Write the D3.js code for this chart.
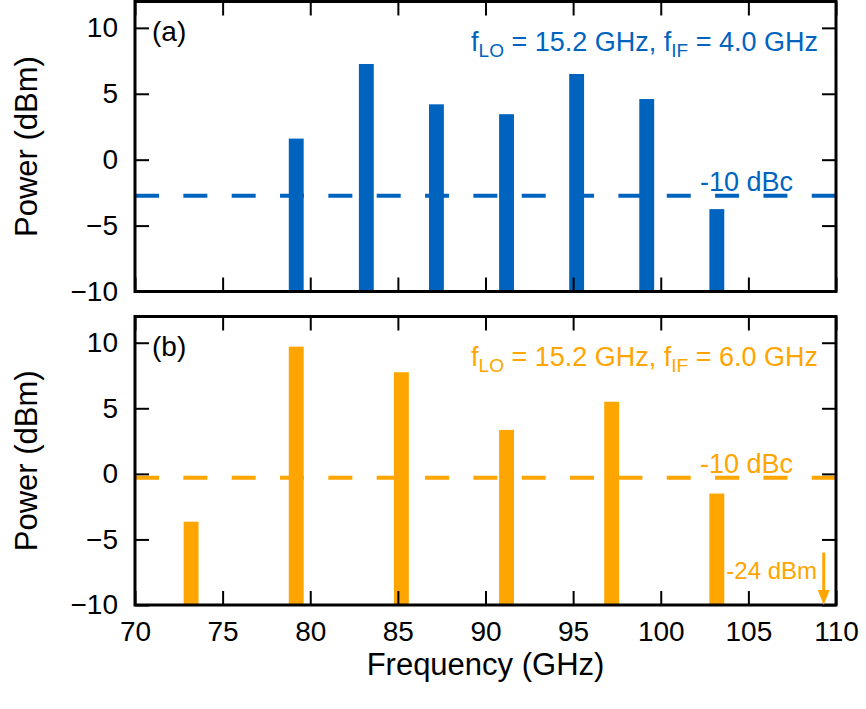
<!DOCTYPE html>
<html>
<head>
<meta charset="utf-8">
<script src="https://cdn.jsdelivr.net/npm/d3@7"></script>
<style>
  html, body { margin: 0; padding: 0; background: #fff; }
  svg { display: block; font-family: "Liberation Sans", Arial, Helvetica, sans-serif; }
</style>
</head>
<body>
<svg id="chart" width="866" height="709"></svg>
<script>
// Sideband spectra, panel (a): f_IF = 4.0 GHz
const freqA = [79.2, 83.2, 87.2, 91.2, 95.2, 99.2, 103.2];
const powerA = [1.6, 7.26, 4.2, 3.45, 6.5, 4.6, -3.75];
// Panel (b): f_IF = 6.0 GHz
const freqB = [73.2, 79.2, 85.2, 91.2, 97.2, 103.2];
const powerB = [-3.65, 9.7, 7.75, 3.35, 5.5, -1.5];
// Off-scale sideband in panel (b), marked with an arrow
const offScaleB = { freq: 109.3, power: -24, arrowFrom: -6 };

const xTicks = [70, 75, 80, 85, 90, 95, 100, 105, 110];
const yTicks = [-10, -5, 0, 5, 10];
const xDomain = [70, 110];
const yDomain = [-10, 12];
const barWidthGHz = 0.85;

const panels = [
  { tag: "(a)", freq: freqA, power: powerA, color: "#0064bf", lo: "15.2", ifr: "4.0", top: 1.5, bottom: 291.5, xLabels: false },
  { tag: "(b)", freq: freqB, power: powerB, color: "#ffa500", lo: "15.2", ifr: "6.0", top: 316.5, bottom: 605, xLabels: true }
];

const svg = d3.select("#chart");
const left = 135, right = 836;
const x = d3.scaleLinear().domain(xDomain).range([left, right]);
const tickLen = 14;
const fmt = d => d < 0 ? "\u2212" + Math.abs(d) : String(d);

panels.forEach(p => {
  const y = d3.scaleLinear().domain(yDomain).range([p.bottom, p.top]);
  const g = svg.append("g");

  // bars
  g.selectAll("rect.bar").data(p.freq.map((f, i) => ({ f, v: p.power[i] })))
    .join("rect").attr("class", "bar")
    .attr("x", d => x(d.f - barWidthGHz / 2))
    .attr("width", d => x(d.f + barWidthGHz / 2) - x(d.f - barWidthGHz / 2))
    .attr("y", d => y(d.v))
    .attr("height", d => y(yDomain[0]) - y(d.v))
    .attr("fill", p.color);

  // -10 dBc reference line
  const ref = d3.max(p.power) - 10;
  g.append("line")
    .attr("x1", left).attr("x2", right)
    .attr("y1", y(ref)).attr("y2", y(ref))
    .attr("stroke", p.color).attr("stroke-width", 4)
    .attr("stroke-dasharray", "24,24.34");
  g.append("text")
    .attr("x", 793).attr("y", y(ref) - 5)
    .attr("text-anchor", "end")
    .attr("font-size", 27).attr("fill", p.color)
    .text("-10 dBc");

  // LO / IF annotation
  const t = g.append("text")
    .attr("x", 818).attr("y", p.top + 49)
    .attr("text-anchor", "end")
    .attr("font-size", 27).attr("fill", p.color);
  t.append("tspan").text("f");
  t.append("tspan").attr("font-size", 19).attr("dy", 6).text("LO");
  t.append("tspan").attr("dy", -6).text(" = " + p.lo + " GHz, f");
  t.append("tspan").attr("font-size", 19).attr("dy", 6).text("IF");
  t.append("tspan").attr("dy", -6).text(" = " + p.ifr + " GHz");

  // panel tag
  g.append("text")
    .attr("x", 152).attr("y", p.top + 39)
    .attr("font-size", 28).attr("fill", "#000")
    .text(p.tag);

  // axes with inward ticks on all four sides
  const axB = d3.axisBottom(x).tickValues(xTicks).tickSize(-tickLen).tickPadding(16)
    .tickFormat(p.xLabels ? d => d : () => "");
  const axT = d3.axisTop(x).tickValues(xTicks).tickSize(-tickLen).tickFormat(() => "");
  const axL = d3.axisLeft(y).tickValues(yTicks).tickSize(-tickLen).tickPadding(17).tickFormat(fmt);
  const axR = d3.axisRight(y).tickValues(yTicks).tickSize(-tickLen).tickFormat(() => "");

  const styleAxis = sel => {
    sel.select(".domain").remove();
    sel.selectAll(".tick line").attr("stroke", "#000").attr("stroke-width", 2);
    sel.selectAll(".tick text").attr("font-size", 28).attr("fill", "#000")
      .attr("font-family", "'Liberation Sans', Arial, Helvetica, sans-serif");
  };
  g.append("g").attr("transform", `translate(0,${p.bottom})`).call(axB).call(styleAxis);
  g.append("g").attr("transform", `translate(0,${p.top})`).call(axT).call(styleAxis);
  g.append("g").attr("transform", `translate(${left},0)`).call(axL).call(styleAxis);
  g.append("g").attr("transform", `translate(${right},0)`).call(axR).call(styleAxis);

  // frame
  g.append("rect")
    .attr("x", left).attr("y", p.top)
    .attr("width", right - left).attr("height", p.bottom - p.top)
    .attr("fill", "none").attr("stroke", "#000").attr("stroke-width", 3);

  // y-axis title
  g.append("text")
    .attr("transform", `translate(37,${(p.top + p.bottom) / 2}) rotate(-90)`)
    .attr("text-anchor", "middle")
    .attr("font-size", 31).attr("fill", "#000")
    .text("Power (dBm)");

  p.y = y;
});

// off-scale marker in panel (b)
const pb = panels[1];
const ax = x(offScaleB.freq);
const yTop = pb.y(offScaleB.arrowFrom), yTip = pb.y(yDomain[0]);
svg.append("line")
  .attr("x1", ax).attr("x2", ax)
  .attr("y1", yTop).attr("y2", yTip - 12)
  .attr("stroke", pb.color).attr("stroke-width", 3);
svg.append("path")
  .attr("d", `M${ax - 6},${yTip - 15} L${ax + 6},${yTip - 15} L${ax},${yTip} Z`)
  .attr("fill", pb.color);
svg.append("text")
  .attr("x", 817).attr("y", 579)
  .attr("text-anchor", "end")
  .attr("font-size", 24).attr("fill", pb.color)
  .text(offScaleB.power + " dBm");

// x-axis title
svg.append("text")
  .attr("x", (left + right) / 2).attr("y", 675)
  .attr("text-anchor", "middle")
  .attr("font-size", 31).attr("fill", "#000")
  .text("Frequency (GHz)");
</script>
</body>
</html>
